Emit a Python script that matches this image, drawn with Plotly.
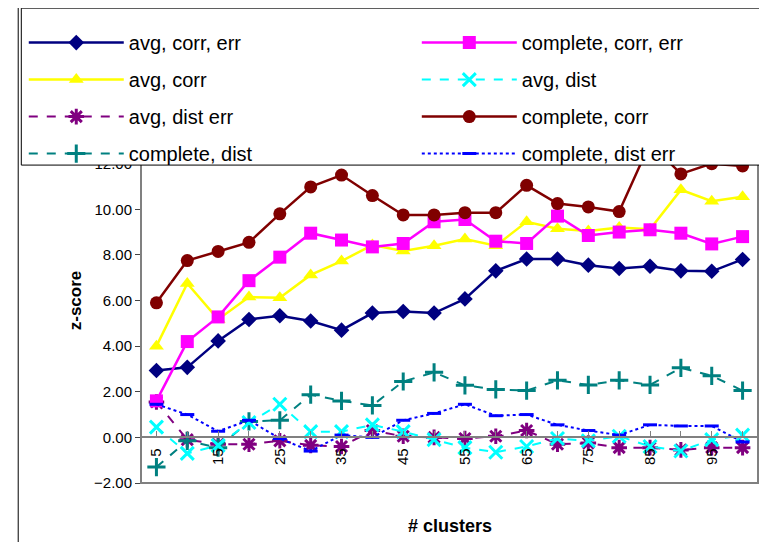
import plotly.graph_objects as go

clusters = list(range(5, 101, 5))
avg_corr_err = [2.93,3.07,4.23,5.17,5.33,5.1,4.7,5.45,5.52,5.45,6.07,7.3,7.82,7.82,7.55,7.4,7.5,7.3,7.28,7.8]
complete_corr_err = [1.6,4.2,5.28,6.87,7.9,8.95,8.65,8.35,8.5,9.45,9.55,8.6,8.5,9.7,8.85,9.0,9.1,8.95,8.48,8.8]
avg_corr = [4.0,6.75,5.17,6.15,6.12,7.12,7.73,8.43,8.17,8.4,8.7,8.4,9.45,9.15,9.05,9.2,9.12,10.85,10.35,10.55]
avg_dist = [0.45,-0.7,-0.35,0.65,1.45,0.25,0.25,0.55,0.25,-0.1,-0.45,-0.65,-0.4,-0.05,-0.15,0.05,-0.4,-0.6,-0.1,0.1]
avg_dist_err = [1.55,-0.1,-0.3,-0.3,-0.15,-0.35,-0.4,0.3,0.05,0.0,-0.05,0.05,0.3,-0.3,-0.25,-0.45,-0.45,-0.55,-0.45,-0.45]
complete_corr = [5.9,7.75,8.15,8.55,9.8,10.98,11.5,10.6,9.75,9.75,9.85,9.85,11.05,10.25,10.1,9.9,12.9,11.55,12.0,11.9]
complete_dist = [-1.3,-0.15,-0.45,0.7,0.75,1.87,1.6,1.4,2.45,2.85,2.28,2.1,2.05,2.5,2.3,2.5,2.3,3.05,2.7,2.05]
complete_dist_err = [1.45,1.0,0.27,0.75,-0.05,-0.6,0.1,0.0,0.75,1.05,1.45,0.95,1.0,0.55,0.3,0.1,0.55,0.5,0.5,-0.2]
tick_vals = list(range(5, 100, 10))
tick_text = [str(v) for v in tick_vals]

series = [
    ("avg, corr, err", avg_corr_err, "#000080", "solid", "diamond", 12, 2.5, "legend"),
    ("avg, corr", avg_corr, "#FFFF00", "solid", "triangle-up", 13, 2.5, "legend"),
    ("avg, dist err", avg_dist_err, "#800080", "dash", "asterisk", 13, 2, "legend"),
    ("complete, dist", complete_dist, "#008080", "dash", "cross-thin", 13, 2, "legend"),
    ("complete, corr, err", complete_corr_err, "#FF00FF", "solid", "square", 13, 2.5, "legend2"),
    ("avg, dist", avg_dist, "#00FFFF", "dash", "x-thin", 13, 2, "legend2"),
    ("complete, corr", complete_corr, "#800000", "solid", "circle", 13, 2.5, "legend2"),
    ("complete, dist err", complete_dist_err, "#0000FF", "dot", "line-ew", 10, 2, "legend2"),
]

fig = go.Figure()
for name, vals, col, dash, sym, size, w, lg in series:
    thin = "thin" in sym or sym in ("asterisk", "line-ew")
    mk = dict(symbol=sym, size=size, color=col, line=dict(color=col, width=3 if thin else 0))
    fig.add_trace(go.Scatter(x=clusters, y=vals, name=name, mode="lines+markers", legend=lg,
                             legendgroup=name,
                             line=dict(color=col, width=w, dash=dash), marker=mk))

legfont = dict(size=20, family="Liberation Sans, Arial", color="black")
fig.update_layout(
    width=767, height=542, paper_bgcolor="white", plot_bgcolor="white",
    margin=dict(l=133, r=17, t=110, b=67, autoexpand=False),
    font=dict(family="Liberation Sans, Arial", color="black"),
    showlegend=True,
    legend=dict(x=-0.19, y=1.26, xanchor="left", yanchor="top", itemwidth=95,
                font=legfont, bgcolor="rgba(0,0,0,0)", borderwidth=0, tracegroupgap=8),
    legend2=dict(x=0.447, y=1.26, xanchor="left", yanchor="top", itemwidth=95,
                 font=legfont, bgcolor="rgba(0,0,0,0)", borderwidth=0, tracegroupgap=8),
    xaxis=dict(range=[2.5, 102.5], tickvals=tick_vals, ticktext=tick_text, tickangle=-90,
               anchor="free", position=0.125, showline=True, linecolor="#808080", linewidth=2,
               ticks="inside", ticklen=5, tickcolor="#808080", ticklabelstandoff=4,
               minor=dict(dtick=5, tick0=5, ticks="inside", ticklen=5, tickcolor="#808080"),
               showgrid=False, zeroline=False, tickfont=dict(size=15)),
    yaxis=dict(range=[-2, 14], dtick=2, tickformat=".2f", showgrid=False, zeroline=False,
               showline=True, linecolor="black", linewidth=1, ticks="outside", ticklen=5,
               tickfont=dict(size=15), title=dict(text="<b>z-score</b>", font=dict(size=17), standoff=8)),
    shapes=[dict(type="rect", xref="paper", yref="paper", x0=0, x1=1, y0=0, y1=1,
                 line=dict(color="#808080", width=2)),
            dict(type="rect", xref="paper", yref="paper", x0=-0.194, x1=1.024, y0=0.871, y1=1.301,
                 line=dict(color="black", width=1), fillcolor="white", layer="above"),
            dict(type="line", xref="paper", yref="paper", x0=-0.199, x1=-0.199, y0=-0.2, y1=1.32,
                 line=dict(color="black", width=1))],
    annotations=[dict(text="<b># clusters</b>", xref="paper", yref="paper", x=0.5, y=-0.085,
                      yanchor="top", showarrow=False, font=dict(size=18))],
)
fig.write_html("out.html")
